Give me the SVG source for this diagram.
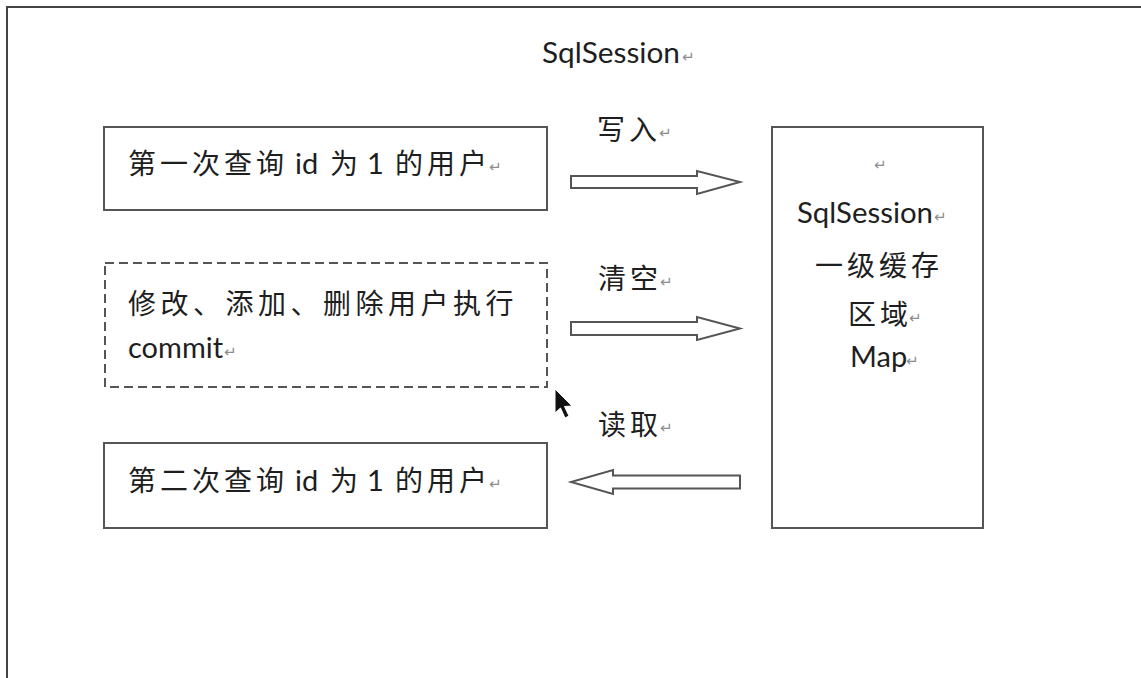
<svg xmlns="http://www.w3.org/2000/svg" width="1141" height="678" viewBox="0 0 1141 678">
  <style>
    .box { fill: #ffffff; stroke: #555555; stroke-width: 2; }
    .dash { stroke-dasharray: 9 5; }
    .frame { fill: none; stroke: #444444; stroke-width: 2; }
    .arrow { fill: #ffffff; stroke: #555555; stroke-width: 2; stroke-linejoin: miter; }
    .t { font-family: "Lato", "Liberation Sans", "Noto Sans CJK SC", sans-serif; font-size: 29px; fill: #1e1e1e; }
    .cjk { font-family: "Noto Sans CJK SC", sans-serif; font-size: 28px; fill: #1e1e1e; }
    .ret { font-family: "DejaVu Sans", sans-serif; font-size: 15px; fill: #8c8c8c; }
  </style>
  <rect x="0" y="0" width="1141" height="678" fill="#ffffff"/>
  <path class="frame" d="M7,679 V7 H1142"/>

  <g id="title">
    <text class="t" x="542" y="63" textLength="138" lengthAdjust="spacingAndGlyphs">SqlSession</text>
    <text class="ret" x="682" y="62">↵</text>
  </g>

  <g id="node-first-query">
    <rect class="box" x="104" y="127" width="443" height="83"/>
    <text class="cjk" x="128 160 192 224 256" y="174">第一次查询</text>
    <text class="t" x="295" y="174">id</text>
    <text class="cjk" x="330" y="174">为</text>
    <text class="t" x="367" y="174">1</text>
    <text class="cjk" x="395 427 459" y="174">的用户</text>
    <text class="ret" x="489" y="172">↵</text>
  </g>

  <g id="node-modify">
    <rect class="box dash" x="105" y="263" width="442" height="124"/>
    <text class="cjk" x="128 160.5 193 225.5 258 290.5 323 355.5 388 420.5 453 485.5" y="314">修改、添加、删除用户执行</text>
    <text class="t" x="128" y="358">commit</text>
    <text class="ret" x="224" y="357">↵</text>
  </g>

  <g id="node-second-query">
    <rect class="box" x="104" y="443" width="443" height="85"/>
    <text class="cjk" x="128 160 192 224 256" y="491">第二次查询</text>
    <text class="t" x="295" y="491">id</text>
    <text class="cjk" x="330" y="491">为</text>
    <text class="t" x="367" y="491">1</text>
    <text class="cjk" x="395 427 459" y="491">的用户</text>
    <text class="ret" x="489" y="489">↵</text>
  </g>

  <g id="node-cache">
    <rect class="box" x="772" y="127" width="211" height="401"/>
    <text class="ret" x="874" y="170">↵</text>
    <text class="t" x="797" y="223" textLength="136" lengthAdjust="spacingAndGlyphs">SqlSession</text>
    <text class="ret" x="934" y="222">↵</text>
    <text class="cjk" x="815 847 879 911" y="276">一级缓存</text>
    <text class="cjk" x="848 880" y="325">区域</text>
    <text class="ret" x="909" y="323">↵</text>
    <text class="t" x="850" y="367">Map</text>
    <text class="ret" x="906" y="366">↵</text>
  </g>

  <g id="connectors">
    <path class="arrow" d="M571,176 H697 V171 L740,182 L697,194 V188 H571 Z"/>
    <path class="arrow" d="M571,322 H697 V317 L740,328.5 L697,340 V335 H571 Z"/>
    <path class="arrow" d="M740,475.5 H613 V470 L571,482 L613,494 V488.5 H740 Z"/>
    <g id="label-write">
      <text class="cjk" x="597 629" y="140">写入</text>
      <text class="ret" x="659" y="138">↵</text>
    </g>
    <g id="label-clear">
      <text class="cjk" x="598 630" y="289">清空</text>
      <text class="ret" x="660" y="287">↵</text>
    </g>
    <g id="label-read">
      <text class="cjk" x="598 630" y="435">读取</text>
      <text class="ret" x="660" y="433">↵</text>
    </g>
  </g>

  <g id="cursor">
    <path d="M555,389 V413 L560.5,408 L565,418 L569,416 L564.5,406.5 L572,406 Z" fill="#111111" stroke="#ffffff" stroke-width="1"/>
  </g>
</svg>
